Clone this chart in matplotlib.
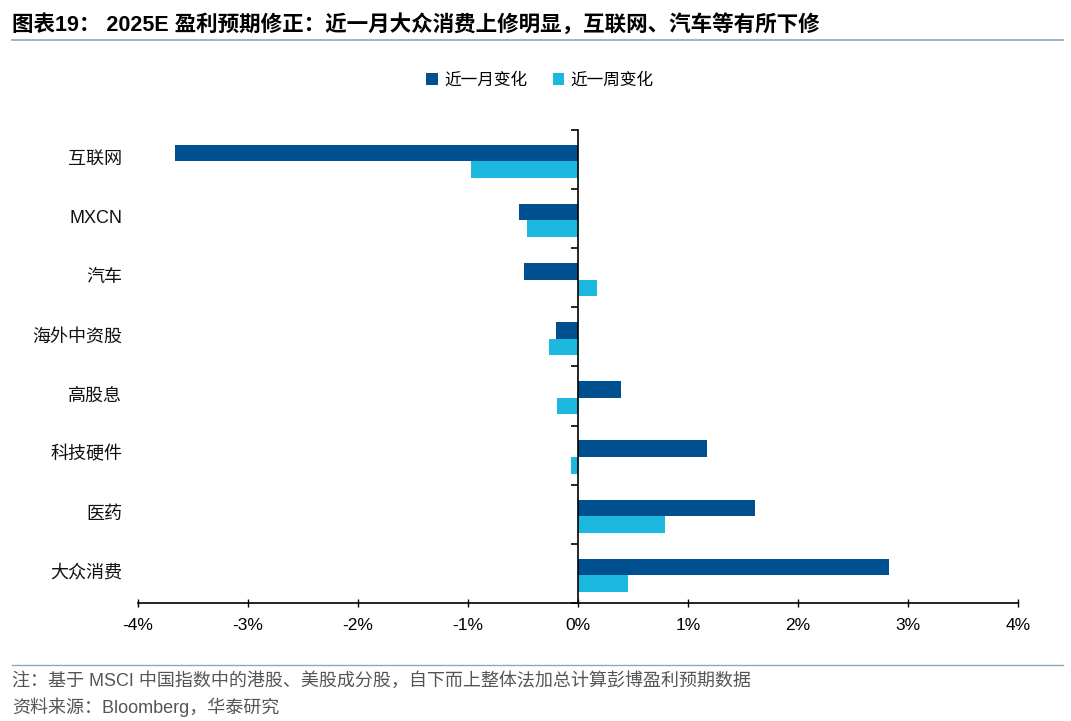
import matplotlib
matplotlib.use("Agg")
import matplotlib.pyplot as plt
import numpy as np

plt.rcParams['font.family'] = ['Liberation Sans', 'Noto Sans CJK SC', 'DejaVu Sans']

# data (percent), top to bottom
categories = ["互联网", "MXCN", "汽车", "海外中资股", "高股息", "科技硬件", "医药", "大众消费"]
month_chg = [-3.66, -0.54, -0.49, -0.20, 0.39, 1.17, 1.61, 2.83]
week_chg = [-0.97, -0.46, 0.17, -0.26, -0.19, -0.06, 0.79, 0.45]
xticks = [-4, -3, -2, -1, 0, 1, 2, 3, 4]

dark = "#00508F"
light = "#1DB8E0"

fig = plt.figure(figsize=(10.71, 7.21), dpi=100)
ax = fig.add_axes([138 / 1071, 1 - 603 / 721, 880 / 1071, 473 / 721])

y = np.arange(len(categories))
h = 0.28
ax.barh(y - h / 2 + 0.03, month_chg, height=h, color=dark, label="近一月变化")
ax.barh(y + h / 2 + 0.03, week_chg, height=h, color=light, label="近一周变化")

ax.set_xlim(-4, 4)
ax.set_ylim(len(categories) - 0.5, -0.5)
ax.set_xticks(xticks)
ax.set_xticklabels(["%d%%" % v for v in xticks], fontsize=12.5)
ax.tick_params(axis='x', direction='inout', length=6, width=1, pad=8)

ax.spines['left'].set_position(('data', 0))
ax.spines['right'].set_visible(False)
ax.spines['top'].set_visible(False)
ax.spines['left'].set_linewidth(1.2)
ax.spines['bottom'].set_linewidth(1.2)
ax.set_yticks(np.arange(len(categories) + 1) - 0.5)
ax.set_yticklabels([])
ax.tick_params(axis='y', direction='out', length=5, width=1.2)

for i, name in enumerate(categories):
    ax.text(-0.018, i, name, transform=ax.get_yaxis_transform(), ha='right',
            va='center', fontsize=13, color='#111111')

leg = ax.legend(loc='center', bbox_to_anchor=(540 / 1071, 1 - 80 / 721),
                bbox_transform=fig.transFigure, ncol=2, frameon=False,
                fontsize=12, handlelength=0.7, handleheight=0.7,
                handletextpad=0.4, columnspacing=1.5)

# title and footnotes
fig.text(12 / 1071, 1 - 25 / 721, "图表19： 2025E 盈利预期修正：近一月大众消费上修明显，互联网、汽车等有所下修",
         fontsize=15.5, fontweight='bold', va='center', ha='left', color='black')
fig.add_artist(plt.Line2D([12 / 1071, 1063 / 1071], [1 - 40 / 721, 1 - 40 / 721],
                          color='#8FA8BE', lw=1.2))
fig.add_artist(plt.Line2D([12 / 1071, 1063 / 1071], [1 - 665 / 721, 1 - 665 / 721],
                          color='#8FA8BE', lw=1.0))
fig.text(12 / 1071, 1 - 681 / 721, "注：基于 MSCI 中国指数中的港股、美股成分股，自下而上整体法加总计算彭博盈利预期数据",
         fontsize=13, va='center', ha='left', color='#555555')
fig.text(12 / 1071, 1 - 707 / 721, "资料来源：Bloomberg，华泰研究",
         fontsize=13, va='center', ha='left', color='#555555')

fig.savefig("out.png", dpi=100)
